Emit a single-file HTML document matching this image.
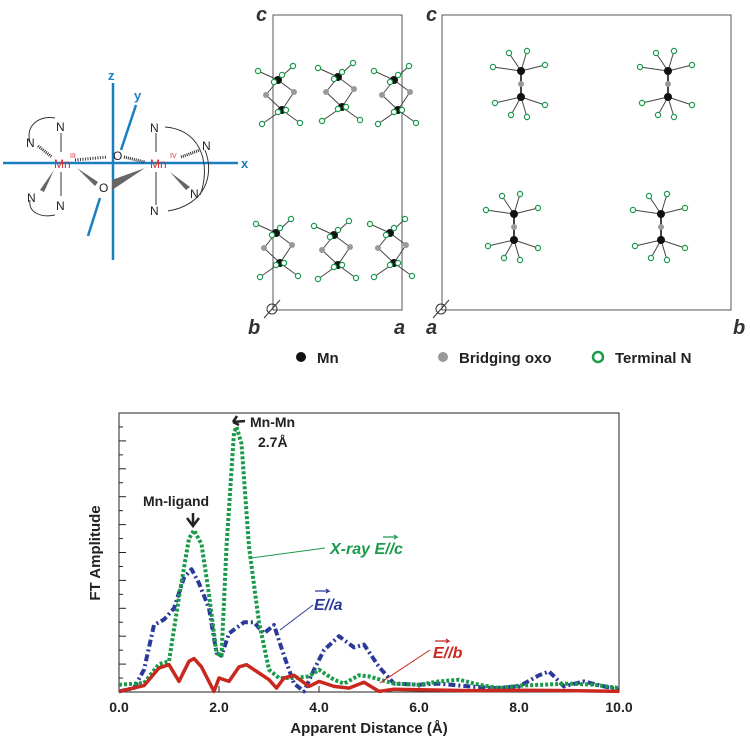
<!DOCTYPE html>
<html><head><meta charset="utf-8"><style>
body{margin:0;background:#fff;width:750px;height:742px;overflow:hidden;font-family:"Liberation Sans",sans-serif}
svg{display:block}
</style></head><body>
<svg id="fig" width="750" height="742" viewBox="0 0 750 742">
<!-- schematic -->
<g id="schem" font-family="Liberation Sans, sans-serif">
 <line x1="3" y1="163" x2="238" y2="163" stroke="#1a7fc0" stroke-width="2.5"/>
 <line x1="113" y1="83" x2="113" y2="260" stroke="#1a7fc0" stroke-width="2.5"/>
 <line x1="121" y1="150" x2="136" y2="105" stroke="#1a7fc0" stroke-width="2.5"/>
 <line x1="100" y1="198" x2="88" y2="236" stroke="#1a7fc0" stroke-width="2.5"/>
 <text x="108" y="80" fill="#1a7fc0" font-size="13" font-weight="bold">z</text>
 <text x="134" y="100" fill="#1a7fc0" font-size="13" font-weight="bold">y</text>
 <text x="241" y="168" fill="#1a7fc0" font-size="13" font-weight="bold">x</text>
 <line x1="61" y1="133" x2="61" y2="152" stroke="#333"/>
 <line x1="61" y1="172" x2="61" y2="196" stroke="#333"/>
 <line x1="156" y1="133" x2="156" y2="152" stroke="#333"/>
 <line x1="156" y1="172" x2="156" y2="205" stroke="#333"/>
 <line x1="38" y1="146" x2="52" y2="157" stroke="#333" stroke-dasharray="1,1" stroke-width="3"/>
 <line x1="75" y1="160" x2="107" y2="157" stroke="#333" stroke-dasharray="1,1.5" stroke-width="3"/>
 <line x1="124" y1="157" x2="145" y2="162" stroke="#333" stroke-dasharray="1,1" stroke-width="3"/>
 <line x1="181" y1="157" x2="200" y2="150" stroke="#333" stroke-dasharray="1,1" stroke-width="3"/>
 <polygon points="54,170 40,190 44,192" fill="#666"/>
 <polygon points="77,168 98,182 95,186" fill="#666"/>
 <polygon points="145,168 112,180 112,190" fill="#666"/>
 <polygon points="170,172 190,187 186,190" fill="#666"/>
 <path d="M30,142 C25,125 40,115 55,118" fill="none" stroke="#333"/>
 <path d="M30,200 C28,212 40,218 55,215" fill="none" stroke="#333"/>
 <path d="M165,127 C205,130 210,170 200,195" fill="none" stroke="#333"/>
 <path d="M168,211 C205,205 215,175 205,150" fill="none" stroke="#333"/>
 <g font-size="12" fill="#222">
 <text x="56" y="131">N</text><text x="26" y="147">N</text><text x="27" y="202">N</text><text x="56" y="210">N</text>
 <text x="150" y="132">N</text><text x="202" y="150">N</text><text x="190" y="198">N</text><text x="150" y="215">N</text>
 <text x="113" y="160">O</text><text x="99" y="192">O</text></g>
 <text x="54" y="168" fill="#d0303a" font-size="12">Mn</text>
 <text x="70" y="158" fill="#d0303a" font-size="7">III</text>
 <text x="150" y="168" fill="#d0303a" font-size="12">Mn</text>
 <text x="170" y="158" fill="#d0303a" font-size="7">IV</text>
</g>
<!-- unit cells -->
<rect x="273" y="15" width="129" height="295" fill="none" stroke="#555"/>
<rect x="442" y="15" width="289" height="295" fill="none" stroke="#555"/>
<g font-size="20" font-weight="bold" font-style="italic" fill="#333">
<text x="256" y="21">c</text>
<text x="248" y="334">b</text>
<text x="394" y="334">a</text>
<text x="426" y="21">c</text>
<text x="426" y="334">a</text>
<text x="733" y="334">b</text></g>
<circle cx="272" cy="309" r="5" fill="none" stroke="#333"/><line x1="264" y1="318" x2="280" y2="300" stroke="#333"/>
<circle cx="441" cy="309" r="5" fill="none" stroke="#333"/><line x1="433" y1="318" x2="449" y2="300" stroke="#333"/>
<g id="mols"></g>
<!-- legend -->
<g font-size="15" font-weight="bold" fill="#222">
<circle cx="301" cy="357" r="5" fill="#111"/><text x="317" y="363">Mn</text>
<circle cx="443" cy="357" r="5" fill="#999"/><text x="459" y="363">Bridging oxo</text>
<circle cx="598" cy="357" r="5" fill="none" stroke="#1a9a4a" stroke-width="2.5"/><text x="615" y="363">Terminal N</text></g>
<!-- chart -->
<g id="chart"></g>
</svg>
<script>
const NS="http://www.w3.org/2000/svg";
function mk(p,t,a){const e=document.createElementNS(NS,t);for(const k in a)e.setAttribute(k,a[k]);p.appendChild(e);return e;}
const mols=document.getElementById('mols');
function molA(cx,cy,flip){
 const s=flip?-1:1;
 const m1=[cx-2*s,cy-15],m2=[cx+2*s,cy+15],o1=[cx-14,cy],o2=[cx+14,cy-3];
 [[m1,o1],[m1,o2],[m2,o1],[m2,o2]].forEach(([a,b])=>mk(mols,'line',{x1:a[0],y1:a[1],x2:b[0],y2:b[1],stroke:'#444'}));
 const ns=[[m1,-20,-9],[m1,15,-14],[m1,-4,2],[m1,4,-5],[m2,-20,14],[m2,18,13],[m2,-4,2],[m2,4,0]];
 ns.forEach(([m,dx,dy])=>{mk(mols,'line',{x1:m[0],y1:m[1],x2:m[0]+dx,y2:m[1]+dy,stroke:'#444'});});
 [o1,o2].forEach(o=>mk(mols,'circle',{cx:o[0],cy:o[1],r:3,fill:'#999'}));
 [m1,m2].forEach(m=>mk(mols,'circle',{cx:m[0],cy:m[1],r:4,fill:'#111'}));
 ns.forEach(([m,dx,dy])=>mk(mols,'circle',{cx:m[0]+dx,cy:m[1]+dy,r:2.6,fill:'#fff',stroke:'#1a9a4a','stroke-width':1.2}));
}
[[280,95],[340,92],[396,95],[278,248],[336,250],[392,248]].forEach(p=>molA(p[0],p[1]));
function molB(cx,cy){
 const m1=[cx,cy-13],m2=[cx,cy+13];
 mk(mols,'line',{x1:m1[0],y1:m1[1],x2:m2[0],y2:m2[1],stroke:'#444','stroke-width':2});
 const ns=[[m1,-28,-4],[m1,-12,-18],[m1,6,-20],[m1,24,-6],[m2,-26,6],[m2,-10,18],[m2,6,20],[m2,24,8]];
 ns.forEach(([m,dx,dy])=>mk(mols,'line',{x1:m[0],y1:m[1],x2:m[0]+dx,y2:m[1]+dy,stroke:'#444'}));
 mk(mols,'circle',{cx:cx,cy:cy,r:3,fill:'#999'});
 [m1,m2].forEach(m=>mk(mols,'circle',{cx:m[0],cy:m[1],r:4,fill:'#111'}));
 ns.forEach(([m,dx,dy])=>mk(mols,'circle',{cx:m[0]+dx,cy:m[1]+dy,r:2.6,fill:'#fff',stroke:'#1a9a4a','stroke-width':1.2}));
}
[[521,84],[668,84],[514,227],[661,227]].forEach(p=>molB(p[0],p[1]));
</script>
<script>
const xTicks=[0,2,4,6,8,10];
const xTickLabels=["0.0","2.0","4.0","6.0","8.0","10.0"];
const greenX=[0,0.5,0.8,1.0,1.2,1.4,1.5,1.65,1.8,1.95,2.05,2.15,2.3,2.35,2.45,2.6,2.8,3.0,3.2,3.5,3.8,4.0,4.3,4.5,4.8,5.0,5.5,6.0,6.4,6.8,7.2,7.6,8.0,8.5,9.0,9.5,10];
const greenY=[2.6,3.2,10,11,34,55,58,53,35,14,13,52,93,95,89,52,25,8,5,5,5.6,8,4.4,3,6,5.6,3,2.6,3.8,4.4,2.6,1.4,2.3,2.6,3,2.6,1.4];
const blueX=[0,0.3,0.5,0.7,0.9,1.1,1.3,1.45,1.6,1.8,1.95,2.05,2.2,2.5,2.7,2.9,3.1,3.3,3.5,3.7,3.9,4.1,4.4,4.7,4.9,5.2,5.5,6.0,6.4,7.0,7.5,8.0,8.4,8.6,8.9,9.3,9.7,10];
const blueY=[0.2,1.4,8,24,26,30,41,44,39,30,14,13,21,25,25,21,24,13,3,0.2,8,15,20,16,17,9,3,2.6,3,2,1.4,2,6,7.4,2,3.8,2,0.8];
const redX=[0,0.5,0.8,1.0,1.2,1.4,1.5,1.65,1.9,2.0,2.2,2.4,2.55,2.8,3.0,3.15,3.3,3.5,3.8,4.0,4.3,4.6,4.9,5.2,5.5,6,7,8,9,10];
const redY=[0.2,2.3,8.6,9.8,3.8,11,12,9,0.2,5,3.8,9,9.8,6.8,4.4,1.4,5,6,2,3.8,2,1.4,3.5,0.2,1,0.8,0.5,0.6,0.5,0.2];
const X0=119,X1=619,Y0=692,Y1=413;
const sx=v=>X0+(v-0)/(10-0)*(X1-X0);
const sy=v=>Y0-v/100*(Y0-Y1);
const ch=document.getElementById('chart');
const frame=mk(ch,'rect',{x:X0,y:Y1,width:X1-X0,height:Y0-Y1,fill:'none',stroke:'#222','stroke-width':1});


for(let v=0;v<=100;v+=5){const y=sy(v);mk(ch,'line',{x1:X0,y1:y,x2:X0+(v%10?4:7),y2:y,stroke:'#222'});}
xTicks.forEach((t,i)=>{
 mk(ch,'line',{x1:sx(t),y1:Y0,x2:sx(t),y2:Y0-6,stroke:'#222'});
 const tx=mk(ch,'text',{x:sx(t),y:Y0+20,'text-anchor':'middle','font-size':14,'font-weight':'bold',fill:'#222'});
 tx.textContent=xTickLabels[i];
 
 
});
function series(xs,ys,color,w,dash,name){
 const d=xs.map((x,i)=>(i?'L':'M')+sx(x).toFixed(1)+','+sy(ys[i]).toFixed(1)).join('');
 const p=mk(ch,'path',{d:d,fill:'none',stroke:color,'stroke-width':w,'stroke-dasharray':dash,'stroke-linejoin':'round'});
 
 
}
series(blueX,blueY,'#2b3a9a',4,'7,3,2,3','series-e-parallel-a');
series(greenX,greenY,'#1a9a4a',4,'3,2','series-e-parallel-c');
series(redX,redY,'#c8281e',3.5,'','series-e-parallel-b');
function txt(x,y,s,opts,name){const t=mk(ch,'text',Object.assign({x:x,y:y,'font-weight':'bold','font-size':14,fill:'#222'},opts));t.textContent=s;return t;}
txt(sx(5),733,'Apparent Distance (Å)',{'text-anchor':'middle','font-size':15},'x-axis-title');
txt(0,0,'FT Amplitude',{'text-anchor':'middle',transform:'translate(100,553) rotate(-90)','font-size':15},'y-axis-title');
txt(250,427,'Mn-Mn',{},'mn-mn-annotation');
txt(258,447,'2.7Å',{},'mn-mn-distance');
txt(143,506,'Mn-ligand',{},'mn-ligand-annotation');
mk(ch,'path',{d:'M233,422 L245,421 M233,422 l4,-6 M233,422 l6,3',stroke:'#222','stroke-width':2.5,fill:'none'});
mk(ch,'path',{d:'M193,513 L193,525 M187,518 L193,526 L199,518',stroke:'#222','stroke-width':2.5,fill:'none'});
mk(ch,'line',{x1:251,y1:558,x2:325,y2:548,stroke:'#1a9a4a'});
txt(330,554,'X-ray E//c',{fill:'#1a9a4a','font-style':'italic','font-size':16},'label-e-parallel-c');
mk(ch,'line',{x1:280,y1:630,x2:313,y2:605,stroke:'#2b3a9a'});
txt(314,610,'E//a',{fill:'#2b3a9a','font-style':'italic','font-size':16},'label-e-parallel-a');
mk(ch,'line',{x1:380,y1:683,x2:430,y2:650,stroke:'#c8281e'});
txt(433,658,'E//b',{fill:'#c8281e','font-style':'italic','font-size':16},'label-e-parallel-b');
[[383,537,'#1a9a4a'],[315,591,'#2b3a9a'],[435,641,'#c8281e']].forEach(a=>mk(ch,'path',{d:`M${a[0]},${a[1]} h14 l-3,-2 m3,2 l-3,2`,stroke:a[2],fill:'none','stroke-width':1.2}));
</script>
</body></html>
